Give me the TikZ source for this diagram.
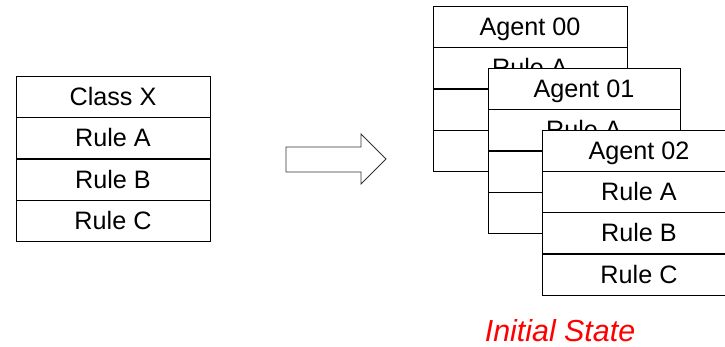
\documentclass[tikz,border=0pt]{standalone}
\usepackage{fontspec}
\setmainfont{Liberation Sans}
\begin{document}
\begin{tikzpicture}[x=1pt,y=-1pt,
  cell/.style={draw=black,line width=0.7pt,fill=white,minimum width=194pt,minimum height=41pt,
    inner sep=0pt,outer sep=0pt,anchor=north west,
    font=\fontsize{25.2}{30}\selectfont,text height=18pt,text depth=0pt},
  bigarrow/.style={draw=black!80,line width=0.8pt,fill=white},
  caption/.style={text=red,font=\fontsize{30.4}{36}\selectfont\itshape,inner sep=0pt,text height=21.5pt,text depth=0pt}
]
\useasboundingbox (0,0) rectangle (725,347);
\clip (0,0) rectangle (725,347);
% Class X
\node[cell] (cx) at (16,76) {Class X};
\node[cell] (cxa) at (16,117) {Rule A};
\node[cell] (cxb) at (16,159) {Rule B};
\node[cell] (cxc) at (16,200) {Rule C};
% arrow
\coordinate (a1) at (286,147);
\coordinate (a2) at (361,147);
\coordinate (a3) at (361,134);
\coordinate (a4) at (386,159);
\coordinate (a5) at (361,184);
\coordinate (a6) at (361,172);
\coordinate (a7) at (286,172);
\draw[bigarrow] (a1) -- (a2) -- (a3) -- (a4) -- (a5) -- (a6) -- (a7) -- cycle;
% Agent 00
\node[cell] (g0) at (433,6) {Agent 00};
\node[cell] (g0a) at (433,47) {Rule A};
\node[cell] (g0b) at (433,89) {Rule B};
\node[cell] (g0c) at (433,130) {Rule C};
% Agent 01
\node[cell,minimum width=192pt] (g1) at (488,68) {Agent 01};
\node[cell,minimum width=192pt] (g1a) at (488,109) {Rule A};
\node[cell,minimum width=192pt] (g1b) at (488,151) {Rule B};
\node[cell,minimum width=192pt] (g1c) at (488,192) {Rule C};
% Agent 02
\node[cell] (g2) at (542,130) {Agent 02};
\node[cell] (g2a) at (542,171) {Rule A};
\node[cell] (g2b) at (542,212) {Rule B};
\node[cell] (g2c) at (542,254) {Rule C};
% caption
\node[caption] (cap) at (560,331) {Initial State};
\end{tikzpicture}
\end{document}
